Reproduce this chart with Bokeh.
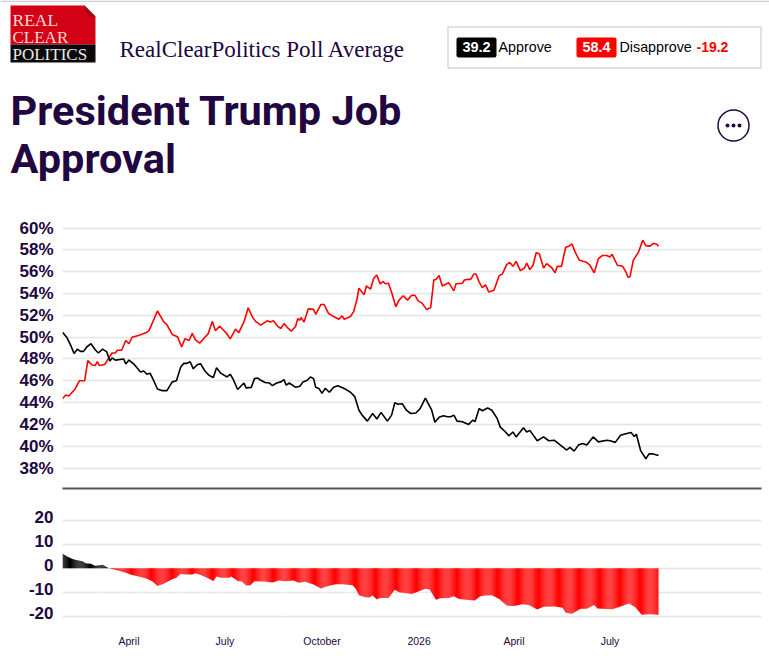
from bokeh.plotting import figure
from bokeh.layouts import column
from bokeh.models import Range1d, FixedTicker, LinearAxis
from bokeh.core.properties import value
from bokeh.embed import file_html
from bokeh.resources import INLINE
import numpy as np

# day = days since 28 Jan 2025
approve_points = [(0,50.45),(4,50.0),(8,49.2),(11,48.5),(14,48.9),(17,48.7),(20,48.7),(23,49.1),(27,49.4),(31,48.85),(34,48.55),(38,48.9),(42,48.65),(45,47.8),(47,48.1),(50,47.9),(58,48.0),(60,47.55),(63,47.9),(68,47.5),(74,46.8),(77,46.9),(80,46.6),(83,46.7),(86,46.1),(90,45.25),(94,45.1),(99,45.1),(104,45.9),(108,46.0),(112,47.25),(115,47.6),(118,47.6),(121,47.75),(124,47.1),(128,47.5),(131,47.55),(135,46.9),(139,46.5),(143,46.3),(146,47.2),(150,46.7),(156,46.35),(159,46.6),(162,46.1),(166,45.2),(172,45.8),(174,45.35),(179,45.4),(182,46.2),(185,46.25),(188,46.05),
(192,45.85),(196,45.8),(199,45.55),(203,45.8),(207,45.9),(210,46.1),(212,45.6),(215,45.8),(221,45.4),(225,45.5),(228,45.9),(232,46.05),(235,46.35),(238,46.2),(240,45.4),(243,45.3),(246,44.85),(249,45.3),(253,44.95),(257,45.4),(261,45.55),(267,45.3),(273,44.95),(277,44.55),(281,43.3),(284,42.85),(289,42.3),(294,43.0),(298,42.5),(302,43.1),(308,42.3),(312,42.85),(315,44.0),(318,43.85),(322,43.9),(326,43.3),(330,43.0),(335,43.05),(339,43.45),(344,44.4),(347,43.85),(350,43.3),(353,42.2),(357,42.65),(361,42.8),(365,42.7),(368,42.7),(371,42.85),(374,42.3),(379,42.25),(385,42.0),
(389,42.4),(391,42.25),(395,43.45),(398,43.25),(403,43.5),(407,43.3),(412,42.55),(415,41.75),(420,41.3),(423,40.95),(427,41.3),(430,40.85),(437,41.7),(440,41.3),(443,41.45),(450,40.5),(456,40.85),(461,40.5),(466,40.55),(472,40.1),(478,39.65),(481,39.9),(485,39.55),(489,40.1),(493,40.25),(497,40.1),(503,40.85),(508,40.4),(516,40.55),(519,40.5),(524,40.35),(529,41.0),(534,41.15),(539,41.25),(542,40.9),(544,41.1),(548,39.6),(553,38.85),(556,39.3),(559,39.3),(565,39.15)]

disapprove_points = [(0,44.35),(3,44.7),(6,44.6),(12,45.25),(16,46.0),(21,46.0),(24,47.85),(28,47.45),(31,47.4),(33,47.75),(35,47.4),(40,47.5),(44,48.1),(47,48.55),(50,48.55),(52,48.8),(56,48.8),(60,49.7),(63,49.4),(66,50.0),(72,50.15),(79,50.4),(82,50.6),(86,51.5),(90,52.4),(96,51.4),(99,51.15),(104,50.25),(109,50.05),(113,49.1),(116,49.85),(120,49.7),(123,50.35),(126,49.75),(130,49.45),(135,50.0),(138,50.3),(142,51.45),(145,50.6),(149,51.0),(152,50.7),(155,50.4),(159,49.85),(164,50.75),(167,50.4),(172,51.4),(176,52.7),(180,51.85),(183,51.45),(188,51.1),
(194,51.5),(197,51.4),(200,51.5),(204,51.0),(207,50.8),(210,51.25),(214,50.8),(217,50.55),(221,51.0),(223,51.7),(225,51.55),(226,51.8),(229,51.4),(233,52.6),(238,52.55),(240,52.1),(245,53.0),(248,53.0),(252,52.2),(256,51.95),(262,51.65),(265,51.95),(267,51.65),(273,51.9),(276,52.35),(279,53.4),(281,54.5),(286,53.9),(288,54.7),(292,54.4),(295,55.4),(298,55.7),(301,54.9),(304,55.1),(306,54.9),(309,54.95),(312,54.1),(316,52.8),(319,53.4),(323,53.8),(327,53.4),(331,53.85),(334,53.85),(337,53.35),(341,53.1),(345,52.55),(349,52.7),(352,55.25),(354,55.3),(357,55.65),(360,54.7),(366,55.0),(371,54.25),(373,54.9),(379,54.95),(381,55.25),(384,55.3),(387,55.3),
(390,55.8),(392,55.8),(395,55.05),(398,54.55),(401,54.8),(404,54.15),(409,54.3),(414,55.65),(417,55.8),(421,56.65),(424,56.85),(427,56.5),(430,56.95),(434,56.1),(438,56.35),(440,56.8),(443,56.2),(446,56.6),(449,57.75),(452,57.65),(456,56.35),(459,56.75),(464,56.35),(467,55.9),(469,56.5),(473,56.5),(477,58.25),(480,58.35),(483,58.55),(486,57.8),(490,57.05),(496,56.9),(500,56.6),(504,55.9),(508,57.2),(512,57.5),(516,57.5),(519,57.35),(521,57.6),(526,56.6),(531,56.5),(534,56.0),(536,55.5),(538,55.55),(541,57.05),(546,57.8),(550,58.9),(553,58.4),(557,58.35),(560,58.6),(563,58.55),(565,58.35)]

spread_points = [(0,6.1),(4,5.0),(9,3.9),(12,3.5),(19,2.9),(22,2.1),(27,1.8),(31,1.0),(38,1.4),(44,0.0),(50,-0.7),(60,-1.9),(66,-2.8),(72,-3.5),(80,-4.4),(85,-5.4),(90,-7.4),(96,-6.5),(104,-4.6),(108,-4.0),(112,-2.4),(117,-2.6),(123,-2.6),(126,-2.1),(131,-2.8),(137,-4.0),(143,-5.3),(146,-3.5),(150,-4.0),(158,-4.0),(160,-3.5),(166,-5.3),(170,-5.6),(174,-7.2),(178,-7.1),(182,-5.4),(191,-5.6),(199,-6.0),(205,-5.1),(211,-5.4),(219,-5.1),(224,-6.1),(230,-5.7),(238,-6.8),(245,-8.5),(251,-7.5),(259,-6.7),(265,-6.7),(275,-7.1),(278,-8.6),(281,-11.3),(287,-12.1),(291,-12.2),(294,-11.4),(298,-13.1),(301,-12.4),
(309,-12.4),(315,-9.0),(319,-10.0),(325,-10.3),(331,-10.8),(338,-9.6),(344,-8.6),(348,-8.9),(354,-13.2),(358,-12.5),(366,-12.4),(371,-11.7),(376,-12.8),(385,-13.3),(391,-13.5),(396,-11.7),(401,-11.4),(407,-11.3),(414,-12.8),(421,-15.6),(428,-15.8),(436,-15.0),(442,-15.3),(450,-17.2),(456,-16.1),(467,-16.0),(474,-16.5),(477,-18.6),(483,-19.0),(491,-16.9),(497,-16.9),(504,-15.3),(507,-16.8),(521,-17.1),(529,-16.0),(537,-14.7),(543,-16.3),(549,-19.4),(557,-19.2),(565,-19.4)]

pct_ticks = [38,40,42,44,46,48,50,52,54,56,58,60]
spread_ticks = [-20,-10,0,10,20]
date_tick_days = [63,154,246,338,428,519]
date_tick_labels = ["April","July","October","2026","April","July"]

NAVY = "#21063f"
FONT = "Liberation Sans"
X_MAX = 662.6

# ---------- header ----------
h = figure(width=769, height=205, x_range=Range1d(0,769), y_range=Range1d(205,0),
           output_backend="svg", toolbar_location=None, min_border=0, frame_align=False)
h.axis.visible = False
h.grid.visible = False
h.outline_line_color = None
h.background_fill_color = None

def txt(x, y, s, size, color=NAVY, font=FONT, style="normal", align="left"):
    # y is the wanted text baseline on the reversed header scale
    h.text([x],[y-0.36*size],text=[s],text_font=value(font),text_font_size=f"{size}px",text_color=color,
           text_font_style=style,text_align=align,text_baseline="alphabetic")

h.quad(left=[0],right=[769],top=[0],bottom=[1.5],fill_color="#d0d0d0",line_color=None)
h.patch([10,84,95,95,10],[5,5,16,44,44],fill_color="#d40015",line_color=None)
h.patch([84,95,88],[5,16,16],fill_color="#9c0a1a",line_color=None)
h.quad(left=[10],right=[95],top=[44],bottom=[62],fill_color="#0a0a0a",line_color=None)
txt(12,26,"REAL",17.5,"#f8d8d8","Liberation Serif")
txt(12,43,"CLEAR",17,"#f8d8d8","Liberation Serif")
txt(12,60,"POLITICS",17,"#e8e8e8","Liberation Serif")
txt(119,57,"RealClearPolitics Poll Average",23,NAVY,"Liberation Serif")
txt(10,125,"President Trump Job",41.5,NAVY,"Roboto","bold")
txt(10,173,"Approval",41.5,NAVY,"Roboto","bold")

h.quad(left=[447.5],right=[760.5],top=[26.5],bottom=[67.5],fill_color="white",line_color="#d8d8d8",line_width=1.5)
h.quad(left=[456],right=[496],top=[37],bottom=[57],fill_color="black",line_color=None,border_radius=2)
h.quad(left=[576],right=[616],top=[37],bottom=[57],fill_color="#ff0000",line_color=None,border_radius=2)
txt(476,52,"39.2",14.5,"white",FONT,"bold","center")
txt(596,52,"58.4",14.5,"white",FONT,"bold","center")
txt(498,52,"Approve",14.3,"black")
txt(619,52,"Disapprove",14.3,"black")
txt(696,52,"-19.2",14,"#ff0000",FONT,"bold")
h.circle([733],[125],radius=15.5,fill_color="white",line_color=NAVY,line_width=1.5)
h.circle([727,733,739],[125,125,125],radius=2,fill_color=NAVY,line_color=None)

# ---------- approval chart ----------
def style_yaxis(ax, ticks, labels):
    ax.ticker = FixedTicker(ticks=ticks)
    ax.major_label_overrides = labels
    ax.axis_line_color = None
    ax.major_tick_line_color = None
    ax.minor_tick_line_color = None
    ax.major_label_text_font = FONT
    ax.major_label_text_font_style = "bold"
    ax.major_label_text_font_size = "17px"
    ax.major_label_text_color = NAVY
    ax.major_label_standoff = 3

def style_grid(p, ticks):
    p.xgrid.visible = False
    p.ygrid.ticker = FixedTicker(ticks=ticks)
    p.ygrid.grid_line_color = "#e4e4e4"
    p.ygrid.grid_line_width = 1.6
    p.outline_line_color = None

a = figure(width=769, height=285, x_range=Range1d(0,X_MAX), y_range=Range1d(36.12,62.08),
           output_backend="svg", toolbar_location=None, min_border_left=62, min_border_right=8,
           min_border_top=0, min_border_bottom=2, frame_align=False)
style_yaxis(a.yaxis[0], pct_ticks, {t: f"{t}%" for t in pct_ticks})
style_grid(a, pct_ticks)
a.xaxis.ticker = FixedTicker(ticks=[])
a.xaxis.axis_line_color = "#555555"
a.xaxis.axis_line_width = 2
a.xaxis.major_label_text_font_size = "0px"
a.xaxis.major_tick_line_color = None
a.xaxis.minor_tick_line_color = None
a.line(*zip(*disapprove_points), line_color="#ff0000", line_width=1.6)
a.line(*zip(*approve_points), line_color="black", line_width=1.6)

# ---------- spread chart ----------
b = figure(width=769, height=171, x_range=Range1d(0,X_MAX), y_range=Range1d(-23.9,32.4),
           output_backend="svg", toolbar_location=None, min_border_left=62, min_border_right=8,
           min_border_top=0, min_border_bottom=36, frame_align=False)
style_grid(b, spread_ticks)
b.yaxis.visible = False
# tick labels sit a little above their grid lines in this panel
b.extra_y_ranges = {"labels": Range1d(-23.9-1.5, 32.4-1.5)}
lab_axis = LinearAxis(y_range_name="labels")
style_yaxis(lab_axis, spread_ticks, {t: str(t) for t in spread_ticks})
b.add_layout(lab_axis, "left")
b.xaxis.ticker = FixedTicker(ticks=date_tick_days)
b.xaxis.major_label_overrides = dict(zip(date_tick_days, date_tick_labels))
b.xaxis.axis_line_color = None
b.xaxis.major_tick_line_color = None
b.xaxis.minor_tick_line_color = None
b.xaxis.major_label_text_font = FONT
b.xaxis.major_label_text_font_size = "10.5px"
b.xaxis.major_label_text_color = NAVY
b.xaxis.major_label_standoff = 3

sd = np.array([d for d,_ in spread_points], float)
sv = np.array([v for _,v in spread_points], float)
b.varea(sd[sv>=0], np.zeros((sv>=0).sum()), sv[sv>=0], fill_color="black")
b.varea(sd[sv<=0], np.zeros((sv<=0).sum()), sv[sv<=0], fill_color="#ff0000")

# soft vertical stripes of the area fill: a white sheen over it (invisible on the page background)
edges = np.arange(0, 566, 1.0)
sheen = 0.27*np.abs(np.sin(np.pi*(edges+0.5-296.7)/19.3))**1.2
b.quad(left=edges, right=np.minimum(edges+1.0, 565), top=7, bottom=-20.2,
       fill_color="white", fill_alpha=sheen, line_color=None)

page = column(h, a, b, spacing=0)
open("out.html", "w").write(file_html(page, INLINE))
